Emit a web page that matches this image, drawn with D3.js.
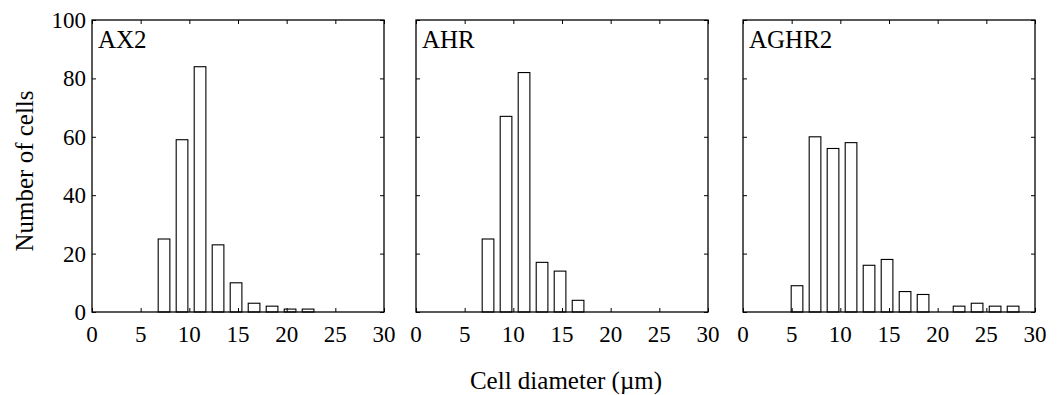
<!DOCTYPE html>
<html>
<head>
<meta charset="utf-8">
<script src="https://cdn.jsdelivr.net/npm/d3@7"></script>
<style>
  html, body { margin: 0; padding: 0; background: #fff; }
  text { font-family: "Liberation Serif", "Times New Roman", serif; fill: #000; }
</style>
</head>
<body>
<div id="chart"></div>
<script>
// bin centres (cell diameter, µm)
const binCentres = [5.55, 7.4, 9.25, 11.1, 12.95, 14.8, 16.65, 18.5, 20.35, 22.2, 24.05, 25.9, 27.75];
const strains = ['AX2', 'AHR', 'AGHR2'];
const countsAX2   = [0, 25, 59, 84, 23, 10, 3, 2, 1, 1, 0, 0, 0];
const countsAHR   = [0, 25, 67, 82, 17, 14, 4, 0, 0, 0, 0, 0, 0];
const countsAGHR2 = [9, 60, 56, 58, 16, 18, 7, 6, 0, 2, 3, 2, 2];
const xTicks = [0, 5, 10, 15, 20, 25, 30];
const yTicks = [0, 20, 40, 60, 80, 100];

const series = [countsAX2, countsAHR, countsAGHR2];

const W = 1060, H = 395;
const panelLeft = [92, 416, 743];
const panelW = 292, plotTop = 20, plotBottom = 312;
const binWidth = 1.2;
const tickLen = 4;

const svg = d3.select('#chart').append('svg')
    .attr('width', W).attr('height', H)
    .attr('viewBox', `0 0 ${W} ${H}`);

const y = d3.scaleLinear().domain([0, 100]).range([plotBottom, plotTop]);

strains.forEach((name, i) => {
    const x0 = panelLeft[i];
    const x = d3.scaleLinear().domain([0, 30]).range([x0, x0 + panelW]);
    const g = svg.append('g');

    // bars
    g.selectAll('rect.bar')
        .data(series[i].map((v, j) => ({ c: binCentres[j], v })).filter(d => d.v > 0))
        .join('rect')
        .attr('class', 'bar')
        .attr('x', d => x(d.c - binWidth / 2))
        .attr('width', x(binWidth) - x(0))
        .attr('y', d => y(d.v))
        .attr('height', d => y(0) - y(d.v))
        .attr('fill', '#fff')
        .attr('stroke', '#000')
        .attr('stroke-width', 1.1);

    // inside ticks on all four sides
    const bx = g.append('g').attr('transform', `translate(0,${plotBottom})`)
        .call(d3.axisTop(x).tickValues(xTicks).tickSize(tickLen).tickFormat(''));
    const tx = g.append('g').attr('transform', `translate(0,${plotTop})`)
        .call(d3.axisBottom(x).tickValues(xTicks).tickSize(tickLen).tickFormat(''));
    const ly = g.append('g').attr('transform', `translate(${x0},0)`)
        .call(d3.axisRight(y).tickValues(yTicks).tickSize(tickLen).tickFormat(''));
    const ry = g.append('g').attr('transform', `translate(${x0 + panelW},0)`)
        .call(d3.axisLeft(y).tickValues(yTicks).tickSize(tickLen).tickFormat(''));
    [bx, tx, ly, ry].forEach(a => {
        a.select('.domain').remove();
        a.selectAll('line').attr('stroke', '#000').attr('stroke-width', 1);
    });

    // frame
    g.append('rect')
        .attr('x', x0).attr('y', plotTop)
        .attr('width', panelW).attr('height', plotBottom - plotTop)
        .attr('fill', 'none').attr('stroke', '#000').attr('stroke-width', 1.3);

    // x tick labels
    g.selectAll('text.xl').data(xTicks).join('text')
        .attr('class', 'xl')
        .attr('x', d => x(d)).attr('y', plotBottom + 30)
        .attr('text-anchor', 'middle')
        .attr('font-size', '23px')
        .text(d => d);

    // y tick labels only on the first panel
    if (i === 0) {
        g.selectAll('text.yl').data(yTicks).join('text')
            .attr('class', 'yl')
            .attr('x', x0 - 6).attr('y', d => y(d) + 8)
            .attr('text-anchor', 'end')
            .attr('font-size', '23px')
            .text(d => d);
    }

    // panel label
    g.append('text')
        .attr('x', x0 + 6).attr('y', plotTop + 28)
        .attr('font-size', '25px')
        .text(name);
});

svg.append('text')
    .attr('transform', `translate(33,171) rotate(-90)`)
    .attr('text-anchor', 'middle')
    .attr('font-size', '25px')
    .text('Number of cells');

svg.append('text')
    .attr('x', 566).attr('y', 389)
    .attr('text-anchor', 'middle')
    .attr('font-size', '25px')
    .text('Cell diameter (\u00b5m)');
</script>
</body>
</html>
